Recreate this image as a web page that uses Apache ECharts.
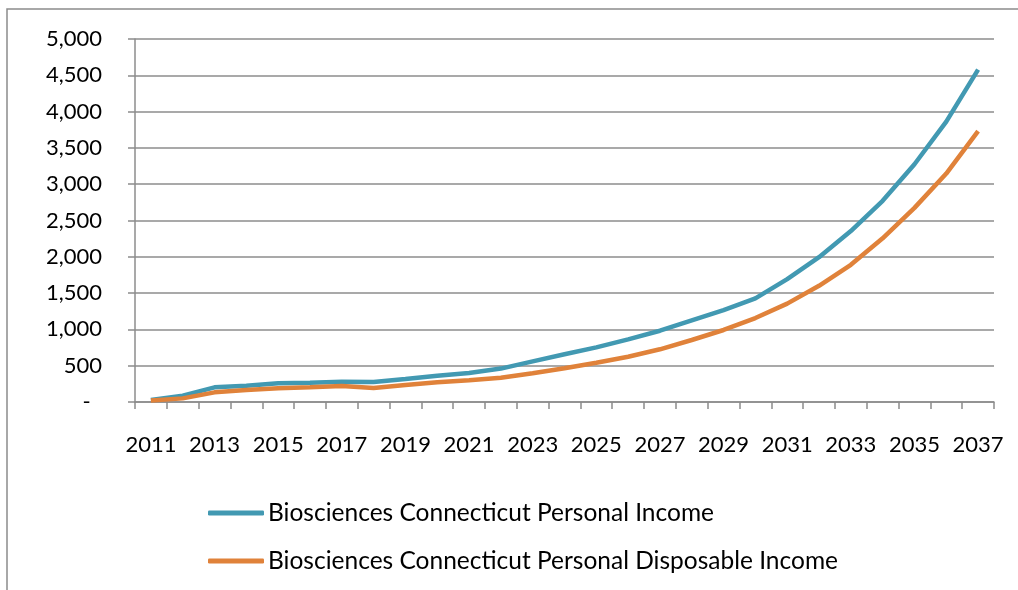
<!DOCTYPE html>
<html>
<head>
<meta charset="utf-8">
<script src="https://cdn.jsdelivr.net/npm/echarts@6/dist/echarts.min.js"></script>
<style>
html,body{margin:0;padding:0;background:#fff;}
#chart{width:1018px;height:590px;}
</style>
</head>
<body>
<div id="chart"></div>
<script>
const years = ['2011','2012','2013','2014','2015','2016','2017','2018','2019','2020','2021','2022','2023','2024','2025','2026','2027','2028','2029','2030','2031','2032','2033','2034','2035','2036','2037'];
const personalIncome = [27, 87, 202, 225, 257, 266, 280, 275, 317, 362, 400, 460, 560, 658, 753, 863, 982, 1125, 1267, 1428, 1693, 1995, 2355, 2771, 3275, 3861, 4578];
const disposableIncome = [20, 50, 133, 165, 188, 202, 220, 193, 234, 271, 300, 335, 395, 464, 541, 624, 726, 854, 992, 1156, 1355, 1601, 1890, 2255, 2674, 3147, 3731];
const seriesNames = ['Biosciences Connecticut Personal Income', 'Biosciences Connecticut Personal Disposable Income'];

const chart = echarts.init(document.getElementById('chart'));
const font = 'Lato, "Open Sans", sans-serif';
chart.setOption({
  animation: false,
  graphic: [{
    type: 'rect',
    shape: {x: 7, y: 9, width: 1100, height: 700},
    style: {fill: 'none', stroke: '#8c8c8c', lineWidth: 1.5},
    silent: true
  }],
  grid: {left: 135, right: 24, top: 39, bottom: 188},
  xAxis: {
    type: 'category',
    data: years,
    boundaryGap: true,
    axisLine: {lineStyle: {color: '#8c8c8c', width: 1.5}},
    axisTick: {show: true, length: 7, interval: 0, lineStyle: {color: '#8c8c8c', width: 1.5}},
    axisLabel: {interval: 1, margin: 32, color: '#000', fontSize: 22, fontFamily: font},
    splitLine: {show: false}
  },
  yAxis: {
    type: 'value',
    min: 0, max: 5000, interval: 500,
    axisLine: {show: true, lineStyle: {color: '#8c8c8c', width: 1.5}},
    axisTick: {show: true, length: 7, lineStyle: {color: '#8c8c8c', width: 1.5}},
    axisLabel: {
      margin: 33, color: '#000', fontSize: 22, fontFamily: font,
      formatter: v => v === 0 ? '-  ' : v.toLocaleString('en-US')
    },
    splitLine: {show: true, lineStyle: {color: '#8c8c8c', width: 1.5}}
  },
  legend: {
    orient: 'vertical',
    left: 208,
    top: 500,
    padding: 0,
    itemWidth: 56,
    itemHeight: 5,
    itemGap: 22,
    icon: 'roundRect',
    textStyle: {color: '#000', fontSize: 24.5, lineHeight: 26, fontFamily: font, padding: [0,0,0,-1]},
    data: seriesNames
  },
  series: [
    {name: seriesNames[0], type: 'line', data: personalIncome, showSymbol: false, symbol: 'none',
     lineStyle: {color: '#4299B2', width: 4.5}, itemStyle: {color: '#4299B2'}},
    {name: seriesNames[1], type: 'line', data: disposableIncome, showSymbol: false, symbol: 'none',
     lineStyle: {color: '#E0823A', width: 4.5}, itemStyle: {color: '#E0823A'}}
  ]
});
</script>
</body>
</html>
